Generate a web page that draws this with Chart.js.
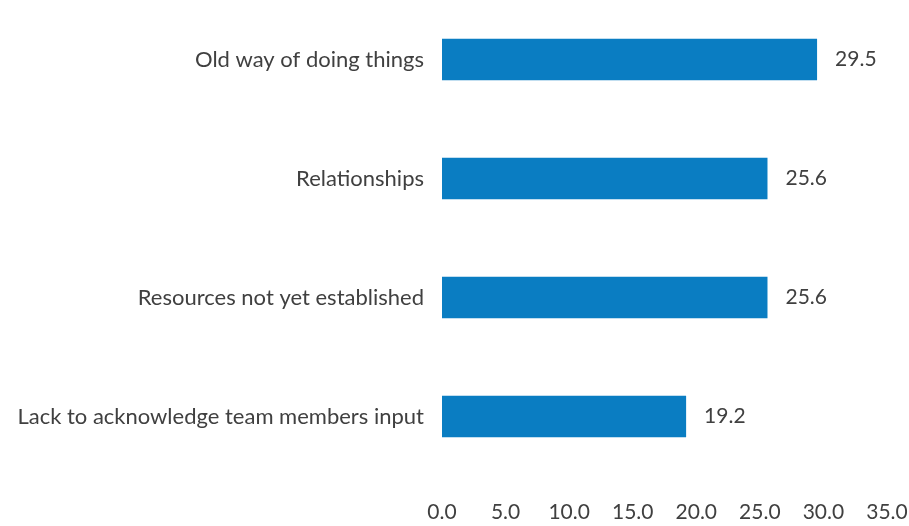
<!DOCTYPE html>
<html>
<head>
<meta charset="utf-8">
<script src="https://cdn.jsdelivr.net/npm/chart.js@4/dist/chart.umd.min.js"></script>
<style>
    html, body { margin: 0; padding: 0; background: #ffffff; }
    canvas { display: block; }
</style>
</head>
<body>
<canvas id="reasonsChart" width="909" height="526"></canvas>
<script>
const categories = [
    'Old way of doing things',
    'Relationships',
    'Resources not yet established',
    'Lack to acknowledge team members input'
];
const percentages = [29.5, 25.6, 25.6, 19.2];
const axisMax = 35;
const axisStep = 5;

const FONT = 'Lato, "Open Sans", sans-serif';

// writes each bar's value just past its end
const valueLabels = {
    id: 'valueLabels',
    afterDatasetsDraw(chart) {
        const ctx = chart.ctx;
        const meta = chart.getDatasetMeta(0);
        ctx.save();
        ctx.font = '21px ' + FONT;
        ctx.fillStyle = '#404040';
        ctx.textAlign = 'left';
        ctx.textBaseline = 'middle';
        meta.data.forEach((bar, i) => {
            ctx.fillText(percentages[i].toFixed(1), bar.x + 18, bar.y);
        });
        ctx.restore();
    }
};

document.addEventListener('DOMContentLoaded', () => {
    const ctx = document.getElementById('reasonsChart').getContext('2d');
    new Chart(ctx, {
        type: 'bar',
        data: {
            labels: categories,
            datasets: [{
                data: percentages,
                backgroundColor: '#0a7dc2',
                borderWidth: 0,
                barPercentage: 0.35,
                categoryPercentage: 1
            }]
        },
        options: {
            indexAxis: 'y',
            responsive: false,
            animation: false,
            layout: { padding: 0 },
            plugins: {
                legend: { display: false },
                tooltip: { enabled: false }
            },
            scales: {
                x: {
                    min: 0,
                    max: axisMax,
                    grid: { display: false, tickLength: 8 },
                    border: { display: false },
                    ticks: {
                        stepSize: axisStep,
                        padding: 16,
                        color: '#404040',
                        font: { family: FONT, size: 21 },
                        callback: v => v.toFixed(1)
                    },
                    afterFit: s => {
                        s.height = 50;
                        s.paddingLeft = 0;
                        s.paddingRight = 22;
                    }
                },
                y: {
                    grid: { display: false, tickLength: 8 },
                    border: { display: false },
                    ticks: {
                        padding: 10,
                        color: '#404040',
                        font: { family: FONT, size: 22 }
                    },
                    afterFit: s => {
                        s.width = 442;
                        s.paddingTop = 0;
                        s.paddingBottom = 0;
                    }
                }
            }
        },
        plugins: [valueLabels]
    });
});
</script>
</body>
</html>
